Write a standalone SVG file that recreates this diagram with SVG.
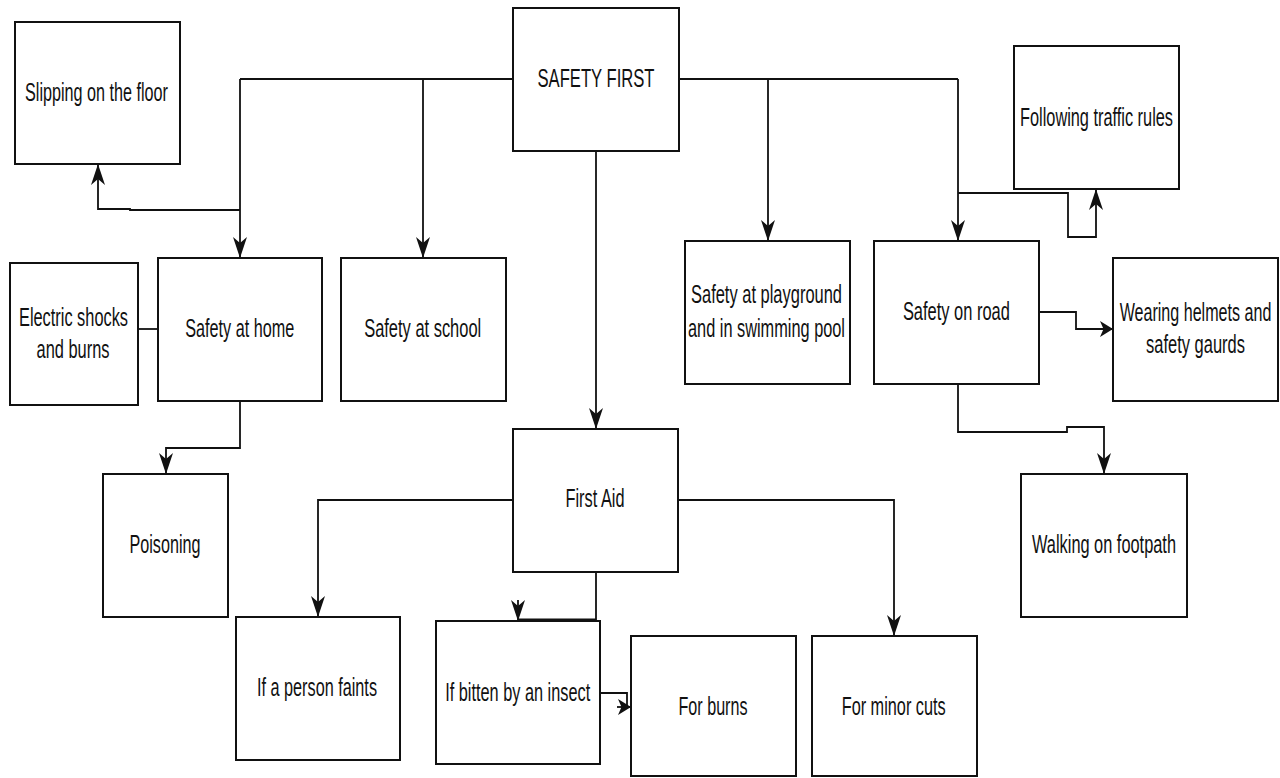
<svg xmlns="http://www.w3.org/2000/svg" width="1280" height="778" viewBox="0 0 1280 778">
<defs>
<style>
.box{fill:#fff;stroke:#111;stroke-width:2}
.lbl{font-family:"Liberation Sans",Arial,sans-serif;font-size:26px;fill:#111;text-anchor:middle}
.c{fill:none;stroke:#111;stroke-width:1.8}
.cv{fill:none;stroke:#111;stroke-width:1.8;marker-end:url(#av)}
.ch{fill:none;stroke:#111;stroke-width:1.8;marker-end:url(#ah)}
</style>
<marker id="av" markerUnits="userSpaceOnUse" markerWidth="21" markerHeight="14" refX="21" refY="7" orient="auto" viewBox="0 0 21 14">
<path d="M0,0 L21,7 L0,14 L6,7 Z" fill="#111"/>
</marker>
<marker id="ah" markerUnits="userSpaceOnUse" markerWidth="13" markerHeight="16" refX="13" refY="8" orient="auto" viewBox="0 0 13 16">
<path d="M0,0 L13,8 L0,16 L3.5,8 Z" fill="#111"/>
</marker>
</defs>
<rect width="1280" height="778" fill="#fff"/>
<g id="connectors">
<path class="c" d="M513,79 H240"/>
<path class="cv" d="M240,79 V258"/>
<path class="cv" d="M423,79 V258"/>
<path class="cv" d="M240,210 H130 V209 H98 V164"/>
<path class="c" d="M679,79 H958"/>
<path class="cv" d="M958,79 V241"/>
<path class="cv" d="M768,79 V241"/>
<path class="cv" d="M958,193 H1068 V237 H1096 V189"/>
<path class="cv" d="M596,151 V429"/>
<path class="c" d="M138,329 H158"/>
<path class="cv" d="M240,401 V448 H166 V474"/>
<path class="ch" d="M1040,312 H1076 V329 H1113"/>
<path class="cv" d="M958,384 V432 H1067 V427 H1104 V474"/>
<path class="cv" d="M513,500 H318 V617"/>
<path class="cv" d="M678,500 H894 V636"/>
<path class="c" d="M596,572 V619.5 H518"/>
<path class="cv" d="M518,600 V621"/>
<path class="c" d="M600,693 H627 V707"/>
<path class="ch" d="M617,707 H631"/>
</g>
<g id="slipping"><rect class="box" x="15" y="22" width="165" height="142"/><text class="lbl" x="96.5" y="101" textLength="143" lengthAdjust="spacingAndGlyphs">Slipping on the floor</text></g>
<g id="safety-first"><rect class="box" x="513" y="8" width="166" height="143"/><text class="lbl" x="596" y="87" textLength="117" lengthAdjust="spacingAndGlyphs">SAFETY FIRST</text></g>
<g id="traffic"><rect class="box" x="1014" y="46" width="165" height="143"/><text class="lbl" x="1096.5" y="125.5" textLength="153" lengthAdjust="spacingAndGlyphs">Following traffic rules</text></g>
<g id="electric"><rect class="box" x="10" y="263" width="128" height="142"/><text class="lbl" x="73.5" y="326" textLength="109" lengthAdjust="spacingAndGlyphs">Electric shocks</text><text class="lbl" x="73" y="358" textLength="73" lengthAdjust="spacingAndGlyphs">and burns</text></g>
<g id="home"><rect class="box" x="158" y="258" width="164" height="143"/><text class="lbl" x="239.7" y="337" textLength="109" lengthAdjust="spacingAndGlyphs">Safety at home</text></g>
<g id="school"><rect class="box" x="341" y="258" width="165" height="143"/><text class="lbl" x="422.7" y="337" textLength="117" lengthAdjust="spacingAndGlyphs">Safety at school</text></g>
<g id="playground"><rect class="box" x="685" y="241" width="165" height="143"/><text class="lbl" x="766.5" y="303" textLength="151" lengthAdjust="spacingAndGlyphs">Safety at playground</text><text class="lbl" x="766.5" y="337" textLength="157" lengthAdjust="spacingAndGlyphs">and in swimming pool</text></g>
<g id="road"><rect class="box" x="874" y="241" width="165" height="143"/><text class="lbl" x="956.4" y="320" textLength="107" lengthAdjust="spacingAndGlyphs">Safety on road</text></g>
<g id="helmets"><rect class="box" x="1113" y="258" width="165" height="143"/><text class="lbl" transform="translate(1195.5,321) scale(0.619,1)">Wearing helmets and</text><text class="lbl" transform="translate(1195.5,353) scale(0.634,1)">safety gaurds</text></g>
<g id="poisoning"><rect class="box" x="103" y="474" width="125" height="143"/><text class="lbl" x="165" y="553" textLength="71" lengthAdjust="spacingAndGlyphs">Poisoning</text></g>
<g id="footpath"><rect class="box" x="1021" y="474" width="166" height="143"/><text class="lbl" x="1104" y="553" textLength="144" lengthAdjust="spacingAndGlyphs">Walking on footpath</text></g>
<g id="first-aid"><rect class="box" x="513" y="429" width="165" height="143"/><text class="lbl" x="595" y="507" textLength="59" lengthAdjust="spacingAndGlyphs">First Aid</text></g>
<g id="faints"><rect class="box" x="236" y="617" width="164" height="143"/><text class="lbl" x="317" y="696" textLength="120" lengthAdjust="spacingAndGlyphs">If a person faints</text></g>
<g id="bitten"><rect class="box" x="436" y="621" width="164" height="143"/><text class="lbl" x="517.7" y="701" textLength="145" lengthAdjust="spacingAndGlyphs">If bitten by an insect</text></g>
<g id="burns"><rect class="box" x="631" y="636" width="165" height="140"/><text class="lbl" x="713" y="715" textLength="69" lengthAdjust="spacingAndGlyphs">For burns</text></g>
<g id="cuts"><rect class="box" x="812" y="636" width="165" height="140"/><text class="lbl" x="893.7" y="715" textLength="104" lengthAdjust="spacingAndGlyphs">For minor cuts</text></g>
</svg>
